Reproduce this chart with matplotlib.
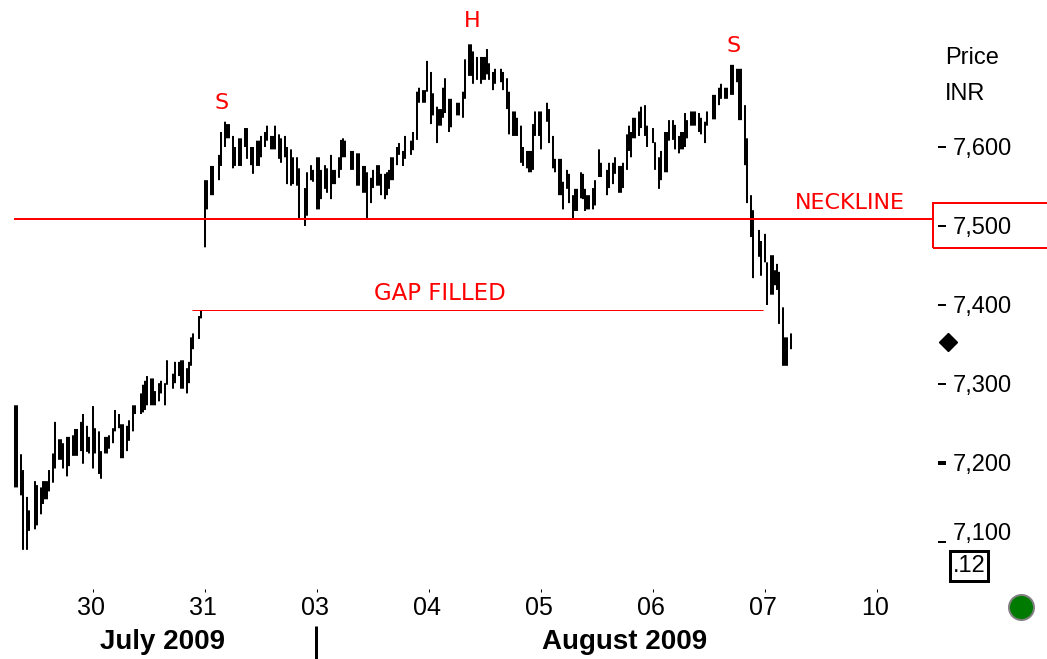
#!/usr/bin/env python3
"""Intraday price chart, INR, head and shoulders with neckline and filled gap."""

import matplotlib
matplotlib.use("Agg")
import matplotlib.pyplot as plt
from matplotlib.patches import Rectangle
from matplotlib.transforms import ScaledTranslation

# --- DATA ---
bar_slot = [0, 1, 3, 4, 6, 7, 10, 11, 13, 14, 15, 16, 17, 19, 20, 22, 23, 24, 26, 27, 29, 30, 31, 33, 34, 36, 37, 39, 40,
            42, 43, 45, 46, 47, 49, 50, 52, 53, 54, 56, 57, 59, 60, 63, 64, 65, 66, 68, 69, 70, 72, 73, 75, 76, 79, 80,
            82, 83, 84, 86, 87, 88, 89, 92, 93, 95, 96, 98, 99, 102, 103, 105, 106, 107, 109, 110, 112, 113, 115, 116,
            118, 119, 121, 122, 123, 125, 126, 128, 129, 130, 132, 133, 135, 136, 138, 139, 141, 142, 145, 146, 148, 149,
            151, 152, 153, 155, 156, 158, 159, 160, 162, 163, 164, 165, 168, 169, 171, 172, 174, 175, 176, 178, 179,
            181, 182, 183, 185, 186, 187, 188, 189, 191, 192, 194, 195, 198, 199, 201, 202, 204, 205, 206, 208, 209,
            211, 212, 213, 214, 215, 217, 218, 221, 222, 224, 225, 227, 228, 229, 231, 233, 234, 235, 236, 237, 239, 240,
            243, 244, 246, 247, 249, 250, 251, 253, 254, 256, 257, 258, 259, 260, 262, 263, 266, 267, 269, 270, 272, 273,
            274, 276, 277, 279, 280, 281, 283, 284, 285, 286, 287, 289, 290, 292, 293, 296, 297, 299, 300, 302, 303, 304,
            306, 307, 308, 309, 310, 312, 313, 315, 316, 319, 320, 322, 323, 325, 326, 327, 329, 330, 332, 333, 334, 335,
            336, 338, 339, 340, 342, 343, 345, 346, 349, 350, 352, 353, 355, 356, 358, 359, 361, 362, 363, 365, 366, 368,
            369, 372, 373, 375, 376, 378, 379, 380, 381, 382, 384, 385, 386, 388]
bar_high = [7273, 7273, 7211, 7191, 7157, 7140, 7177, 7172, 7169, 7177, 7177, 7177, 7191, 7212, 7252, 7230, 7230, 7225, 7233, 7233, 7235, 7243, 7243, 7252, 7262, 7247, 7233, 7272, 7244,
            7240, 7215, 7233, 7233, 7235, 7244, 7267, 7262, 7249, 7249, 7247, 7254, 7273, 7273, 7288, 7299, 7304, 7310, 7307, 7307, 7291, 7301, 7304, 7301, 7330, 7313, 7328,
            7328, 7330, 7330, 7320, 7328, 7359, 7364, 7386, 7393, 7558, 7558, 7576, 7576, 7590, 7619, 7632, 7629, 7629, 7614, 7600, 7611, 7611, 7624, 7624,
            7600, 7600, 7608, 7608, 7614, 7619, 7627, 7614, 7614, 7627, 7616, 7611, 7614, 7600, 7597, 7587, 7587, 7573, 7548, 7568, 7577, 7571,
            7587, 7587, 7571, 7577, 7573, 7590, 7571, 7571, 7587, 7609, 7611, 7608, 7595, 7595, 7592, 7592, 7576, 7576, 7568, 7561, 7571,
            7577, 7577, 7566, 7566, 7568, 7571, 7587, 7587, 7600, 7605, 7595, 7614, 7608, 7619, 7670, 7675, 7672, 7672, 7709, 7695, 7668,
            7651, 7648, 7648, 7675, 7687, 7661, 7661, 7656, 7656, 7670, 7711, 7730, 7730, 7721, 7714, 7714, 7714, 7714, 7724, 7706, 7695, 7699,
            7699, 7695, 7687, 7670, 7645, 7645, 7637, 7627, 7600, 7595, 7595, 7595, 7629, 7645, 7645, 7645, 7656, 7648, 7614, 7585, 7585, 7585,
            7556, 7571, 7566, 7539, 7547, 7547, 7568, 7566, 7547, 7539, 7539, 7548, 7558, 7597, 7580, 7571, 7580, 7580, 7587, 7576, 7576, 7580,
            7616, 7627, 7619, 7637, 7637, 7645, 7651, 7653, 7627, 7624, 7606, 7587, 7595, 7619, 7619, 7634, 7634, 7628, 7614, 7619, 7619, 7643,
            7634, 7645, 7645, 7645, 7643, 7637, 7632, 7645, 7666, 7666, 7675, 7680, 7675, 7675, 7704, 7704, 7699, 7699, 7699, 7653, 7611, 7539,
            7520, 7495, 7481, 7490, 7454, 7463, 7463, 7444, 7452, 7442, 7397, 7359, 7359, 7364]
bar_low = [7169, 7169, 7159, 7090, 7090, 7114, 7116, 7121, 7135, 7148, 7154, 7154, 7164, 7175, 7193, 7204, 7204, 7193, 7183, 7196, 7209, 7209, 7209, 7215, 7199, 7214, 7212, 7193, 7212,
           7186, 7180, 7212, 7212, 7218, 7225, 7240, 7244, 7206, 7206, 7215, 7228, 7240, 7262, 7262, 7264, 7267, 7273, 7273, 7273, 7273, 7278, 7288, 7273, 7299, 7294, 7301,
           7310, 7294, 7294, 7288, 7301, 7323, 7344, 7357, 7383, 7473, 7521, 7539, 7539, 7558, 7576, 7600, 7611, 7611, 7573, 7576, 7576, 7576, 7600, 7585,
           7577, 7566, 7576, 7576, 7587, 7600, 7608, 7597, 7597, 7597, 7585, 7580, 7587, 7553, 7551, 7553, 7551, 7510, 7500, 7513, 7558, 7556,
           7521, 7521, 7534, 7547, 7542, 7534, 7553, 7553, 7561, 7571, 7587, 7587, 7571, 7571, 7551, 7551, 7542, 7542, 7510, 7529, 7548,
           7551, 7551, 7539, 7534, 7539, 7547, 7558, 7558, 7577, 7590, 7576, 7585, 7590, 7596, 7609, 7656, 7656, 7656, 7670, 7629, 7640,
           7605, 7627, 7627, 7637, 7643, 7619, 7625, 7640, 7640, 7637, 7661, 7690, 7690, 7680, 7685, 7680, 7685, 7685, 7692, 7685, 7672, 7680,
           7682, 7672, 7648, 7616, 7614, 7614, 7614, 7580, 7576, 7573, 7568, 7568, 7571, 7614, 7614, 7597, 7632, 7605, 7573, 7568, 7539, 7539,
           7521, 7547, 7529, 7509, 7519, 7519, 7535, 7534, 7519, 7521, 7521, 7521, 7526, 7562, 7562, 7539, 7548, 7553, 7566, 7542, 7542, 7548,
           7571, 7595, 7587, 7611, 7611, 7614, 7624, 7614, 7600, 7605, 7571, 7547, 7558, 7568, 7568, 7608, 7609, 7597, 7592, 7597, 7597, 7600,
           7611, 7627, 7627, 7627, 7619, 7616, 7605, 7627, 7635, 7635, 7653, 7661, 7661, 7661, 7666, 7666, 7682, 7634, 7634, 7577, 7529, 7486,
           7434, 7461, 7437, 7454, 7400, 7413, 7413, 7425, 7419, 7376, 7323, 7323, 7323, 7344]

day_ticks = [39, 95, 151, 207, 263, 319, 375, 431]
day_labels = ["30", "31", "03", "04", "05", "06", "07", "10"]
price_ticks = [7600, 7500, 7400, 7300, 7200, 7100]
price_labels = ["7,600", "7,500", "7,400", "7,300", "7,200", "7,100"]

neckline_price = 7509
gap_price = 7394
last_price = 7353

SANS = "Liberation Sans"
RED = "#ff0000"
PX = 72 / 100  # points per pixel at dpi 100

fig = plt.figure(figsize=(10.47, 6.59), dpi=100)
ax = fig.add_axes([0, 0, 1, 1])
ax.set_xlim(-7.5, 516)
ax.set_ylim(6951.8, 7786.1)
ax.patch.set_visible(False)

# --- BARS AND LINES ---
# one slot is exactly 2 px wide, so with snapping off the bars land on whole pixels
bars = ax.vlines(bar_slot, bar_low, bar_high, colors="black", linewidth=2 * PX, capstyle="butt")
bars.set_snap(False)
ax.plot([-0.5, 459], [neckline_price, neckline_price], color=RED, linewidth=2 * PX, solid_capstyle="butt")
ax.plot([88.5, 374], [gap_price, gap_price], color=RED, linewidth=1 * PX, solid_capstyle="butt")

# --- AXES ---
for name in ["top", "left", "bottom", "right"]:
    ax.spines[name].set_visible(False)

ax.xaxis.tick_bottom()
ax.spines["bottom"].set_position(("data", 7040))
ax.set_xticks(day_ticks, day_labels, fontfamily=SANS, fontsize=18)
ax.tick_params(axis="x", length=3 * PX, width=1 * PX, pad=3)
for tick in ax.xaxis.get_major_ticks():
    tick.label1.set_transform(tick.label1.get_transform() + ScaledTranslation(-2 / 100, 0, fig.dpi_scale_trans))

ax.yaxis.tick_right()
ax.spines["right"].set_position(("data", 461.5))
ax.set_yticks(price_ticks, price_labels, fontfamily=SANS, fontsize=17)
ax.tick_params(axis="y", length=8 * PX, width=2 * PX, pad=5)
ax.yaxis.get_major_ticks()[4].tick2line.set_markeredgewidth(4 * PX)
label_7100 = ax.yaxis.get_major_ticks()[5].label2
label_7100.set_transform(label_7100.get_transform() + ScaledTranslation(0, 10 / 100, fig.dpi_scale_trans))

# --- ANNOTATIONS ---
ax.text(103.5, 7656, "S", color=RED, fontsize=16, ha="center", va="center")
ax.text(228.5, 7759, "H", color=RED, fontsize=16, ha="center", va="center")
ax.text(359.5, 7728, "S", color=RED, fontsize=16, ha="center", va="center")
ax.text(417.5, 7529, "NECKLINE", color=RED, fontsize=16, ha="center", va="center")
ax.text(212.5, 7415, "GAP FILLED", color=RED, fontsize=16.5, ha="center", va="center")

ax.text(465, 7713, "Price", family=SANS, fontsize=17, va="center")
ax.text(465, 7667, "INR", family=SANS, fontsize=17, va="center")

ax.text(74, 6973, "July 2009", family=SANS, weight="bold", fontsize=20, ha="center", va="center")
ax.text(305, 6973, "August 2009", family=SANS, weight="bold", fontsize=20, ha="center", va="center")
ax.plot([150.5, 150.5], [6952, 6993], color="black", linewidth=3 * PX, solid_capstyle="butt")

# price marker, status light, and the small box under the scale
ax.plot([466.25], [last_price], marker="D", markersize=13 * PX, color="black")
ax.plot([503], [7018], marker="o", markersize=25 * PX, markerfacecolor="#007a00",
        markeredgecolor="#808080", markeredgewidth=2 * PX)
ax.add_patch(Rectangle((467.5, 7051), 19, 38, fill=False, edgecolor="black", linewidth=3 * PX))
ax.text(477, 7070, ".12", family=SANS, fontsize=17, ha="center", va="center")

# red frame round the 7,500 label, runs off the right edge
ax.add_patch(Rectangle((459, 7472), 70, 57, fill=False, edgecolor=RED, linewidth=2 * PX, clip_on=True))

fig.savefig("out.png", dpi=100)
